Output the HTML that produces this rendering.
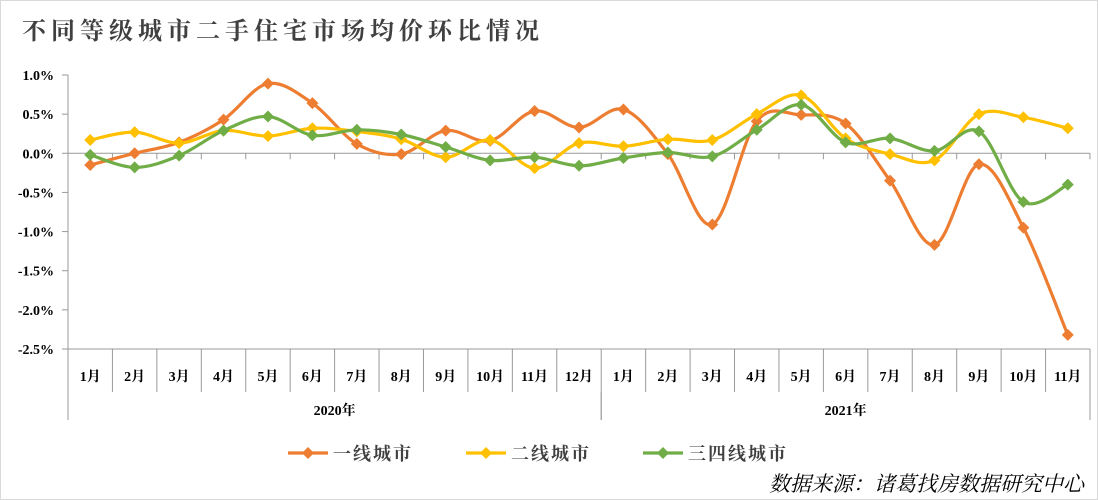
<!DOCTYPE html>
<html><head><meta charset="utf-8"><style>
html,body{margin:0;padding:0;background:#fff}
svg{display:block;font-family:"Liberation Serif","Noto Serif CJK SC",serif}
</style></head><body>
<svg id="chart" width="1098" height="500" viewBox="0 0 1098 500">
<rect x="0.5" y="0.5" width="1097" height="499" fill="#fff" stroke="#d9d9d9"/>
<text x="22" y="39" font-size="24" font-weight="bold" fill="#404040" font-family="'Noto Serif CJK SC',serif" letter-spacing="5">不同等级城市二手住宅市场均价环比情况</text>
<g id="axes"></g>
<g id="series"></g>
<g id="legend"></g>
<text x="1084" y="491" text-anchor="end" font-size="21" font-style="italic" font-family="'Liberation Serif','Noto Serif CJK SC',serif">数据来源：诸葛找房数据研究中心</text>
</svg>
<script>
const categories=["1月","2月","3月","4月","5月","6月","7月","8月","9月","10月","11月","12月","1月","2月","3月","4月","5月","6月","7月","8月","9月","10月","11月"];
const years=["2020年","2021年"];
const yearCounts=[12,11];
const yTicks=[1.0,0.5,0.0,-0.5,-1.0,-1.5,-2.0,-2.5];
const seriesNames=["一线城市","二线城市","三四线城市"];
const tier1=[-0.15,0.0,0.14,0.43,0.89,0.64,0.12,-0.01,0.29,0.16,0.54,0.33,0.56,-0.01,-0.91,0.41,0.49,0.38,-0.35,-1.17,-0.14,-0.95,-2.32];
const tier2=[0.17,0.27,0.13,0.29,0.22,0.32,0.28,0.18,-0.05,0.17,-0.19,0.13,0.09,0.18,0.17,0.50,0.74,0.19,-0.01,-0.09,0.50,0.46,0.32];
const tier34=[-0.02,-0.18,-0.03,0.29,0.47,0.23,0.30,0.24,0.08,-0.09,-0.05,-0.16,-0.06,0.01,-0.04,0.30,0.62,0.14,0.19,0.03,0.28,-0.62,-0.40];
const colors=["#ED7D31","#FFC000","#70AD47"];
const NS="http://www.w3.org/2000/svg";
const L=68,R=1090,T=75,B=349,ymax=1.0,ymin=-2.5;
const step=(R-L)/categories.length;
const xs=i=>L+step*(i+0.5);
const ys=v=>T+(ymax-v)/(ymax-ymin)*(B-T);
function mk(tag,attrs,parent){const e=document.createElementNS(NS,tag);for(const k in attrs)e.setAttribute(k,attrs[k]);parent.appendChild(e);return e;}
const ax=document.getElementById('axes');
let yl=mk('line',{x1:L,y1:T,x2:L,y2:B,stroke:'#999','stroke-width':1},ax);


yTicks.forEach(v=>{
  const t=mk('line',{x1:L-6,y1:ys(v),x2:L,y2:ys(v),stroke:'#999'},ax);
  
  
  const lb=mk('text',{x:L-14,y:ys(v)+5,'text-anchor':'end','font-size':14,'font-weight':'bold'},ax);
  lb.textContent=v.toFixed(1)+'%';
  
  
});
let z=mk('line',{x1:L,y1:ys(0),x2:R,y2:ys(0),stroke:'#999'},ax);


mk('line',{x1:L,y1:B,x2:R,y2:B,stroke:'#999'},ax);
for(let i=0;i<=categories.length;i++){
  const x=L+step*i;
  const t=mk('line',{x1:x,y1:ys(0),x2:x,y2:ys(0)+6,stroke:'#999'},ax);
  
  
  const t2=mk('line',{x1:x,y1:B,x2:x,y2:392,stroke:'#999'},ax);
  
  
}
categories.forEach((c,i)=>{
  const lb=mk('text',{x:xs(i),y:381,'text-anchor':'middle','font-size':14,'font-weight':'bold'},ax);
  lb.textContent=c;
  
  
});
let start=0;
years.forEach((y,k)=>{
  const x0=L+step*start,x1=L+step*(start+yearCounts[k]);
  [x0,x1].forEach(x=>{const d=mk('line',{x1:x,y1:392,x2:x,y2:420,stroke:'#999'},ax);
    
    });
  const lb=mk('text',{x:(x0+x1)/2,y:415,'text-anchor':'middle','font-size':14,'font-weight':'bold'},ax);
  lb.textContent=y;
  
  
  start+=yearCounts[k];
});
const sg=document.getElementById('series');
function smooth(pts){
  let d=`M${pts[0][0]},${pts[0][1]}`;
  for(let i=0;i<pts.length-1;i++){
    const p0=pts[Math.max(0,i-1)],p1=pts[i],p2=pts[i+1],p3=pts[Math.min(pts.length-1,i+2)];
    const c1=[p1[0]+(p2[0]-p0[0])/6,p1[1]+(p2[1]-p0[1])/6];
    const c2=[p2[0]-(p3[0]-p1[0])/6,p2[1]-(p3[1]-p1[1])/6];
    d+=` C${c1[0]},${c1[1]} ${c2[0]},${c2[1]} ${p2[0]},${p2[1]}`;
  }
  return d;
}
const allSeries=[tier1,tier2,tier34];
const sNames=['series-tier1','series-tier2','series-tier34'];
allSeries.forEach((vals,s)=>{
  const g=mk('g',{},sg);
  
  
  const pts=vals.map((v,i)=>[xs(i),ys(v)]);
  const p=mk('path',{d:smooth(pts),fill:'none',stroke:colors[s],'stroke-width':3.2},g);
  
  
  pts.forEach(([x,y])=>{
    const m=mk('polygon',{points:`${x},${y-6} ${x+6},${y} ${x},${y+6} ${x-6},${y}`,fill:colors[s]},g);
    
    
  });
});
const lg=document.getElementById('legend');
const lx=[288,466,643];
seriesNames.forEach((n,s)=>{
  const g=mk('g',{},lg);
  
  
  mk('line',{x1:lx[s],y1:453,x2:lx[s]+40,y2:453,stroke:colors[s],'stroke-width':3.2},g);
  const y=453,x=lx[s]+20;
  mk('polygon',{points:`${x},${y-6} ${x+6},${y} ${x},${y+6} ${x-6},${y}`,fill:colors[s]},g);
  const t=mk('text',{x:lx[s]+45,y:460,'font-size':18,'font-weight':'bold',fill:'#404040','letter-spacing':2,'font-family':"'Noto Serif CJK SC',serif"},g);
  t.textContent=n;
});
</script>
</body></html>
